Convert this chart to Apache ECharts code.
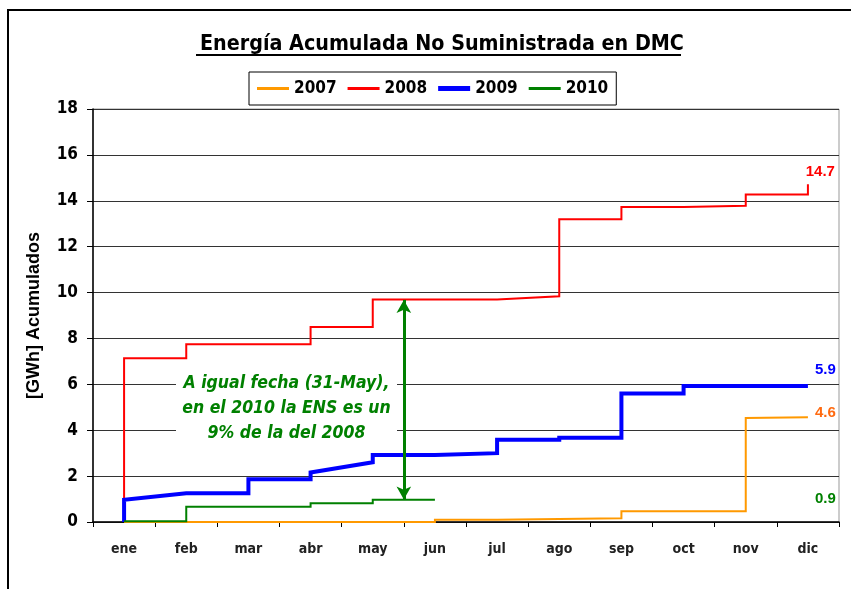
<!DOCTYPE html>
<html>
<head>
<meta charset="utf-8">
<script src="https://cdn.jsdelivr.net/npm/echarts@6/dist/echarts.min.js"></script>
<style>
  html, body { margin: 0; padding: 0; background: #fff; }
  #chart { width: 851px; height: 589px; }
</style>
</head>
<body>
<div id="chart"></div>
<script>
// meses (eje de categorias)
const months = ["ene", "feb", "mar", "abr", "may", "jun", "jul", "ago", "sep", "oct", "nov", "dic"];
const years = ["2007", "2008", "2009", "2010"];

// puntos [indice de mes, GWh acumulados]
const ens2007 = [[0, 0], [5, 0], [5, 0.1], [6, 0.1], [6, 0.16], [8, 0.16], [8, 0.47], [10, 0.47], [10, 4.53], [11, 4.57]];
const ens2008 = [[0, 0], [0, 7.14], [1, 7.14], [1, 7.75], [3, 7.75], [3, 8.5], [4, 8.5], [4, 9.7], [6, 9.7], [6, 9.75], [7, 9.84], [7, 13.2], [8, 13.2], [8, 13.73], [9, 13.73], [9, 13.78], [10, 13.78], [10, 14.27], [11, 14.27], [11, 14.72]];
const ens2009 = [[0, 0], [0, 0.97], [1, 1.25], [2, 1.25], [2, 1.86], [3, 1.86], [3, 2.16], [4, 2.6], [4, 2.92], [5, 2.92], [5, 3.0], [6, 3.0], [6, 3.58], [7, 3.58], [7, 3.67], [8, 3.67], [8, 5.6], [9, 5.6], [9, 5.93], [11, 5.93]];
const ens2010 = [[0, 0.03], [1, 0.03], [1, 0.66], [3, 0.66], [3, 0.82], [4, 0.82], [4, 0.97], [5, 0.97]];

// totales rotulados a la derecha
const totals = [4.6, 14.7, 5.9, 0.9];
// comparacion al 31-May (2008 vs 2010)
const may31 = [9.68, 0.98];

const colors = ["#FF9900", "#FF0000", "#0000FF", "#008000"];
const labelColors = ["#FF6A10", "#FF0000", "#0000FF", "#008000"];
const widths = [2, 2, 4, 2];
const labelPos = [[11.28, 4.76], [11.2, 15.25], [11.28, 6.62], [11.28, 1.02]];

const seriesData = [ens2007, ens2008, ens2009, ens2010];
const FONT = "'DejaVu Sans Condensed', 'DejaVu Sans', sans-serif";

let chart = echarts.init(document.getElementById("chart"));

let series = [];
let legendData = [];
seriesData.forEach((data, i) => {
  legendData.push({
    name: years[i],
    icon: "path://M0,0 L32,0 L32," + (widths[i] + 1) + " L0," + (widths[i] + 1) + " Z"
  });
  let s = {
    name: years[i],
    type: "line",
    xAxisIndex: 1,
    data: data,
    showSymbol: false,
    symbol: "none",
    lineStyle: { color: colors[i], width: widths[i], join: "miter" },
    itemStyle: { color: colors[i] },
    markPoint: {
      symbol: "circle",
      symbolSize: 0,
      silent: true,
      data: [{
        coord: labelPos[i],
        label: {
          show: true,
          formatter: totals[i].toFixed(1),
          color: labelColors[i],
          fontFamily: "'Liberation Sans', Arial, sans-serif",
          fontWeight: "bold",
          fontSize: 15,
          position: "inside"
        }
      }]
    }
  };
  if (i === 3) {
    s.markLine = {
      silent: true,
      symbol: ["arrow", "arrow"],
      symbolSize: [11, 13],
      lineStyle: { color: "#008000", width: 3, type: "solid" },
      label: { show: false },
      data: [[{ coord: [4.5, may31[0]] }, { coord: [4.5, may31[1]] }]]
    };
  }
  series.push(s);
});

let option = {
  animation: false,
  backgroundColor: "#fff",
  title: {
    text: "Energía Acumulada No Suministrada en DMC",
    left: 195,
    top: 29,
    textStyle: { fontFamily: FONT, fontSize: 21.3, fontWeight: "bold", color: "#000" }
  },
  legend: {
    data: legendData,
    left: 249,
    top: 72,
    padding: [8, 8, 8, 8],
    itemGap: 11,
    itemWidth: 32,
    itemHeight: 14,
    borderColor: "#000",
    borderWidth: 1,
    backgroundColor: "#fff",
    textStyle: { fontFamily: FONT, fontSize: 17, fontWeight: "bold", color: "#000" }
  },
  grid: {
    left: 93,
    right: 12,
    top: 109,
    bottom: 67,
    show: true,
    borderColor: "#999",
    borderWidth: 1
  },
  xAxis: [
    {
      type: "category",
      data: months,
      boundaryGap: true,
      axisLine: { lineStyle: { color: "#000", width: 1.5 } },
      axisTick: { show: true, length: 5, lineStyle: { color: "#000" } },
      axisLabel: { fontFamily: FONT, fontSize: 14, fontWeight: "bold", color: "#222", margin: 20 }
    },
    {
      type: "value",
      min: -0.5,
      max: 11.5,
      show: false
    }
  ],
  yAxis: {
    type: "value",
    min: 0,
    max: 18,
    interval: 2,
    name: "[GWh] Acumulados",
    nameLocation: "middle",
    nameGap: 50,
    nameTextStyle: { fontFamily: "'Liberation Sans', Arial, sans-serif", fontSize: 18, fontWeight: "bold", color: "#000" },
    axisLine: { show: true, onZero: false, lineStyle: { color: "#000", width: 1.5 } },
    axisTick: { show: true, length: 6, lineStyle: { color: "#000" } },
    axisLabel: { fontFamily: FONT, fontSize: 17, fontWeight: "bold", color: "#000", margin: 15 },
    splitLine: { lineStyle: { color: "#333", width: 1 } }
  },
  graphic: [
    {
      type: "rect",
      shape: { x: 8, y: 10, width: 860, height: 600 },
      style: { fill: "none", stroke: "#000", lineWidth: 2 },
      silent: true,
      z: 0
    },
    {
      type: "line",
      shape: { x1: 196, y1: 55, x2: 681, y2: 55 },
      style: { stroke: "#000", lineWidth: 2 },
      silent: true
    },
    {
      type: "rect",
      shape: { x: 176, y: 368, width: 221, height: 80 },
      style: { fill: "#fff" },
      silent: true,
      z: 5
    },
    {
      type: "text",
      left: 178,
      top: 371,
      z: 6,
      style: {
        text: "A igual fecha (31-May),\nen el 2010 la ENS es un\n9% de la del 2008",
        fill: "#008000",
        font: "italic bold 17.5px " + FONT,
        textAlign: "center",
        lineHeight: 25,
        width: 217
      }
    }
  ],
  series: series
};

chart.setOption(option);
</script>
</body>
</html>
